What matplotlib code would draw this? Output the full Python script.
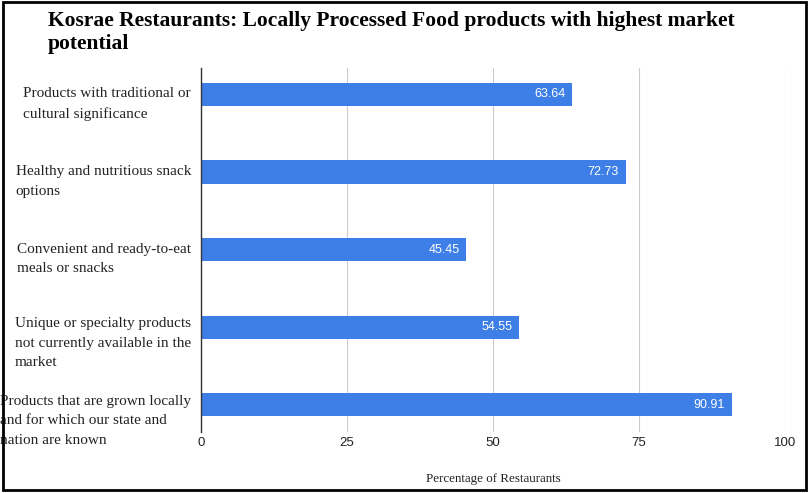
import matplotlib
matplotlib.use("Agg")
import matplotlib.pyplot as plt
import matplotlib.transforms as mtransforms
from matplotlib.patches import Rectangle
import numpy as np

# data, top to bottom
categories = [
    "Products with traditional or\ncultural significance",
    "Healthy and nutritious snack\noptions",
    "Convenient and ready-to-eat\nmeals or snacks",
    "Unique or specialty products\nnot currently available in the\nmarket",
    "Products that are grown locally\nand for which our state and\nnation are known",
]
values = [63.64, 72.73, 45.45, 54.55, 90.91]
xticks = [0, 25, 50, 75, 100]

bar_color = "#3d7fe6"
serif = "Liberation Serif"
sans = "Liberation Sans"

fig = plt.figure(figsize=(8.09, 4.93), dpi=100)
ax = fig.add_axes([0.2485, 0.124, 0.7215, 0.738])

ypos = np.arange(len(categories))[::-1]
ax.barh(ypos, values, height=0.3, color=bar_color, zorder=3)

# value labels inside bar ends
for y, v in zip(ypos, values):
    ax.text(v - 1.2, y, "%.2f" % v, ha="right", va="center",
            color="white", fontsize=9, family=sans, zorder=4)

ax.set_xlim(0, 100)
ax.set_ylim(-0.35, len(categories) - 1 + 0.34)
ax.set_xticks(xticks)
ax.set_xticklabels([str(t) for t in xticks], family=sans, fontsize=9.5, color="#222222")
ax.set_yticks([])
ax.tick_params(axis="x", length=0, pad=4)
ax.grid(axis="x", color="#cccccc", linewidth=0.8, zorder=0)

for s in ["top", "right", "bottom"]:
    ax.spines[s].set_visible(False)
ax.spines["left"].set_color("#333333")
ax.spines["left"].set_linewidth(1)
ax.spines["left"].set_zorder(5)

# category labels: first line roughly level with bar
trans = mtransforms.blended_transform_factory(ax.transAxes, ax.transData)
for y, lab in zip(ypos, categories):
    nlines = lab.count("\n") + 1
    off = 0.13 if nlines == 3 else 0.09
    ax.text(-0.017, y + off, lab, transform=trans, ha="right", va="top",
            multialignment="left", fontsize=11, family=serif,
            color="#222222", linespacing=1.65)

ax.set_xlabel("Percentage of Restaurants", family=serif, fontsize=9.4,
              color="#222222", labelpad=17)

fig.text(0.059, 0.978, "Kosrae Restaurants: Locally Processed Food products with highest market\npotential",
         ha="left", va="top", fontsize=15.5, fontweight="bold", family=serif,
         linespacing=1.2)

# frame around the whole picture
fig.patches.append(Rectangle((0.004, 0.006), 0.992, 0.99, transform=fig.transFigure,
                             fill=False, edgecolor="black", linewidth=2))

fig.savefig("out.png", dpi=100)
